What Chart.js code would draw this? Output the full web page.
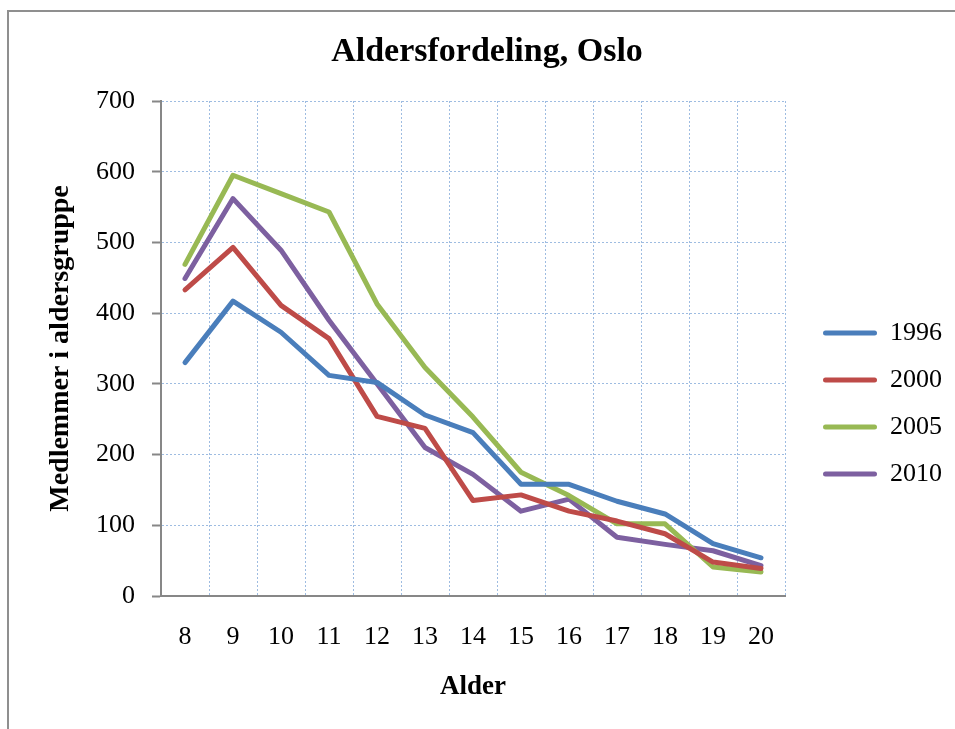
<!DOCTYPE html>
<html>
<head>
<meta charset="utf-8">
<script src="https://cdn.jsdelivr.net/npm/chart.js@4/dist/chart.umd.min.js"></script>
<style>
  html, body { margin: 0; padding: 0; background: #fff; overflow: hidden; }
  #frame { position: absolute; left: 7px; top: 10px; width: 1000px; height: 800px;
           border-left: 2px solid #8f8f8f; border-top: 2px solid #8f8f8f; z-index: 0; }
  #c { position: absolute; left: 0; top: 0; z-index: 1; }
</style>
</head>
<body>
<div id="frame"></div>
<canvas id="c" width="955" height="729"></canvas>
<script>
// ---- data ----
const categories = ['8', '9', '10', '11', '12', '13', '14', '15', '16', '17', '18', '19', '20'];
const seriesNames = ['1996', '2000', '2005', '2010'];
const values1996 = [330, 417, 373, 312, 302, 256, 231, 158, 158, 134, 116, 74, 54];
const values2000 = [433, 493, 411, 364, 254, 237, 135, 143, 120, 106, 88, 48, 39];
const values2005 = [469, 595, 569, 543, 413, 323, 253, 175, 142, 102, 102, 41, 34];
const values2010 = [449, 562, 489, 390, 300, 210, 172, 120, 137, 83, 73, 64, 43];
const yTicks = [0, 100, 200, 300, 400, 500, 600, 700];
const chartTitle = 'Aldersfordeling, Oslo';
const xTitle = 'Alder';
const yTitle = 'Medlemmer i aldersgruppe';

// ---- styles ----
const seriesColors = ['#4a7ebb', '#be4b48', '#98b954', '#7d60a0'];
const serif = "'Liberation Serif', 'Times New Roman', serif";
const gridColor = 'rgba(125,165,215,0.75)';
const axisColor = '#878787';

const allValues = [values1996, values2000, values2005, values2010];
const datasets = allValues.map((vals, i) => ({
  label: seriesNames[i],
  data: vals,
  borderColor: seriesColors[i],
  backgroundColor: seriesColors[i],
  borderWidth: 5,
  pointRadius: 0,
  pointHoverRadius: 0,
  tension: 0,
  borderCapStyle: 'round',
  borderJoinStyle: 'round',
  fill: false
}));

Chart.defaults.color = '#000';
Chart.defaults.font.family = serif;

new Chart(document.getElementById('c'), {
  type: 'line',
  data: { labels: categories, datasets: datasets },
  options: {
    responsive: false,
    animation: false,
    devicePixelRatio: 1,
    layout: { padding: { left: 19, right: 0, top: 0, bottom: 28 } },
    plugins: {
      tooltip: { enabled: false },
      title: {
        display: true,
        text: chartTitle,
        color: '#000',
        font: { family: serif, size: 34, weight: 'bold', lineHeight: 1 },
        padding: { top: 35, bottom: 32 }
      },
      legend: {
        display: true,
        position: 'right',
        align: 'center',
        maxWidth: 300,
        title: { display: true, text: ' ', font: { size: 10, lineHeight: 1 }, padding: { top: 96, bottom: 0 } },
        labels: {
          boxWidth: 54,
          boxHeight: 5,
          padding: 21,
          useBorderRadius: true,
          borderRadius: 2.5,
          color: '#000',
          font: { family: serif, size: 26, lineHeight: 1 },
          generateLabels: (chart) => chart.data.datasets.map((ds, i) => ({
            text: ds.label,
            fillStyle: ds.borderColor,
            strokeStyle: ds.borderColor,
            lineWidth: 0,
            hidden: false,
            datasetIndex: i,
            borderRadius: 2.5
          }))
        }
      }
    },
    scales: {
      x: {
        type: 'category',
        offset: true,
        grid: {
          display: true,
          offset: true,
          color: gridColor,
          lineWidth: 1,
          drawTicks: false
        },
        border: { display: true, color: axisColor, width: 2, dash: [2, 2] },
        ticks: {
          color: '#000',
          padding: 28.5,
          maxRotation: 0,
          autoSkip: false,
          font: { family: serif, size: 26, lineHeight: 1 }
        },
        title: {
          display: true,
          text: xTitle,
          color: '#000',
          font: { family: serif, size: 27, weight: 'bold', lineHeight: 1 },
          padding: { top: 0, bottom: 0 }
        },
        afterFit: (scale) => { scale.height = 105; }
      },
      y: {
        type: 'linear',
        position: 'left',
        min: 0,
        max: 700,
        afterBuildTicks: (scale) => { scale.ticks = yTicks.map(v => ({ value: v })); },
        grid: {
          display: true,
          color: gridColor,
          lineWidth: 1,
          drawTicks: true,
          tickLength: 9,
          tickColor: axisColor,
          tickWidth: 2,
          tickBorderDash: []
        },
        border: { display: true, color: axisColor, width: 2, dash: [2, 2] },
        ticks: {
          color: '#000',
          padding: 17,
          font: { family: serif, size: 26, lineHeight: 1 }
        },
        title: {
          display: true,
          text: yTitle,
          color: '#000',
          font: { family: serif, size: 28, weight: 'bold', lineHeight: 1 },
          padding: { top: 28, bottom: 0 }
        },
        afterFit: (scale) => { scale.width = 142; }
      },
      padA: {
        type: 'linear',
        position: 'right',
        weight: 0,
        display: true,
        grid: { display: false, drawTicks: false },
        border: { display: false },
        ticks: { display: false },
        afterFit: (scale) => { scale.width = 17; }
      },
      padB: {
        type: 'linear',
        position: 'right',
        weight: 2000,
        display: true,
        grid: { display: false, drawTicks: false },
        border: { display: false },
        ticks: { display: false },
        afterFit: (scale) => { scale.width = 3; }
      }
    }
  }
});
</script>
</body>
</html>
